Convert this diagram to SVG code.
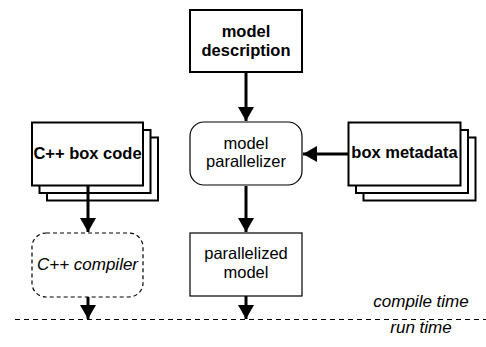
<svg xmlns="http://www.w3.org/2000/svg" width="486" height="347" viewBox="0 0 486 347">
<defs>
<marker id="ah" markerUnits="userSpaceOnUse" markerWidth="16" markerHeight="16" viewBox="0 0 14 16" refX="14" refY="8" orient="auto">
<path d="M0,0 L14,8 L0,16 Z" fill="#000"/>
</marker>
</defs>
<style>
text{font-family:"Liberation Sans",Arial,sans-serif;font-size:16.5px;fill:#000;text-anchor:middle}
.b{font-weight:bold}
.i{font-style:italic;font-size:17px}
.box{fill:#fff;stroke:#000;stroke-width:2}
.thin{fill:#fff;stroke:#000;stroke-width:1.2}
.dash{fill:#fff;stroke:#000;stroke-width:1.2;stroke-dasharray:4 3}
.conn{stroke:#000;stroke-width:3;fill:none;marker-end:url(#ah)}
</style>
<rect width="486" height="347" fill="#fff"/>
<line x1="15" y1="319.5" x2="486" y2="319.5" stroke="#000" stroke-width="1" stroke-dasharray="5 4"/>
<g id="model-description">
<rect class="box" x="190" y="10" width="112" height="62"/>
<text class="b" x="246" y="37">model</text>
<text class="b" x="246" y="56">description</text>
</g>
<g id="model-parallelizer">
<rect class="thin" x="190" y="122" width="112" height="63" rx="14"/>
<text x="246" y="149">model</text>
<text x="246" y="167">parallelizer</text>
</g>
<g id="cpp-box-code">
<rect class="box" x="47" y="137.5" width="111" height="63"/>
<rect class="box" x="39.5" y="130" width="111" height="63"/>
<rect class="box" x="32" y="122.5" width="111" height="63"/>
<text class="b" x="87.5" y="158.5">C++ box code</text>
</g>
<g id="box-metadata">
<rect class="box" x="363.5" y="137.5" width="112" height="63"/>
<rect class="box" x="356" y="130" width="112" height="63"/>
<rect class="box" x="348.5" y="122.5" width="112" height="63"/>
<text class="b" x="404.5" y="158">box metadata</text>
</g>
<g id="cpp-compiler">
<rect class="dash" x="32" y="233" width="111" height="64" rx="14"/>
<text class="i" x="87.5" y="270">C++ compiler</text>
</g>
<g id="parallelized-model">
<rect class="thin" x="190" y="233" width="112" height="63"/>
<text x="246" y="259">parallelized</text>
<text x="246" y="278">model</text>
</g>
<g id="time-labels">
<text class="i" x="421" y="307">compile time</text>
<text class="i" x="421" y="333">run time</text>
</g>
<g id="connectors">
<line class="conn" x1="246" y1="73" x2="246" y2="121"/>
<line class="conn" x1="348" y1="154" x2="303" y2="154"/>
<line class="conn" x1="246" y1="186" x2="246" y2="232"/>
<line class="conn" x1="88" y1="186" x2="88" y2="232"/>
<line class="conn" x1="88" y1="297" x2="88" y2="319"/>
<line class="conn" x1="246" y1="296" x2="246" y2="319"/>
</g>
</svg>
